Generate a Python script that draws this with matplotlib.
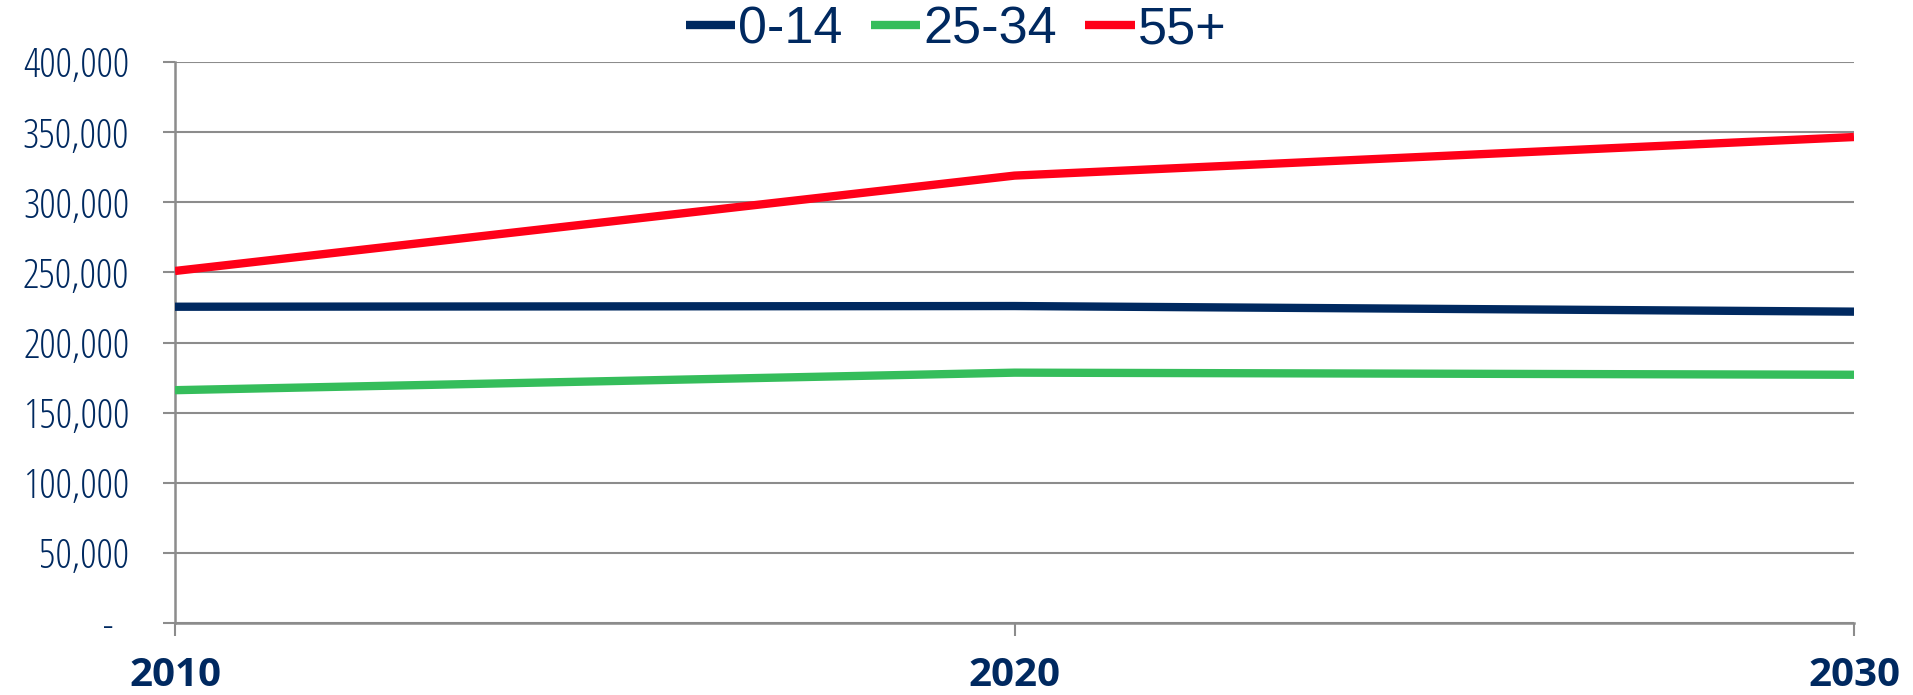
import matplotlib.pyplot as plt
from matplotlib.ticker import FixedLocator

years = [2010, 2020, 2030]
age_groups = ["0-14", "25-34", "55+"]
pop_0_14 = [225500, 226000, 222000]
pop_25_34 = [166000, 178500, 177000]
pop_55_plus = [251000, 319000, 346500]
y_ticks = [0, 50000, 100000, 150000, 200000, 250000, 300000, 350000, 400000]
y_tick_labels = ["-  ", "50,000", "100,000", "150,000", "200,000",
                 "250,000", "300,000", "350,000", "400,000"]

navy = "#002960"
colors = [navy, "#35BD5B", "#FF0018"]
grid_grey = "#8C8C8C"
narrow = ["Open Sans", "DejaVu Sans"]

fig = plt.figure(figsize=(19.13, 6.95), dpi=100)
ax = fig.add_axes([175 / 1913, 72 / 695, (1854 - 175) / 1913, (623 - 62) / 695])

for vals, name, c in zip([pop_0_14, pop_25_34, pop_55_plus], age_groups, colors):
    ax.plot(years, vals, color=c, lw=6.0, label=name, solid_capstyle="butt", zorder=3)

ax.set_xlim(2010, 2030)
ax.set_ylim(0, 400000)
ax.yaxis.set_major_locator(FixedLocator(y_ticks))
ax.set_yticklabels(y_tick_labels, family=narrow, stretch="condensed",
                   fontsize=29.5, color=navy)
ax.set_xticks(years)
ax.set_xticklabels([str(y) for y in years], family=narrow, stretch="condensed",
                   fontsize=29, fontweight="bold", color=navy)

ax.grid(axis="y", color=grid_grey, lw=1.5, zorder=1)
for s in ["top", "right"]:
    ax.spines[s].set_visible(False)
for s in ["left", "bottom"]:
    ax.spines[s].set_color(grid_grey)
    ax.spines[s].set_linewidth(1.8)
ax.tick_params(axis="y", length=9, width=1.5, color=grid_grey, pad=24)
ax.tick_params(axis="x", length=9, width=1.5, color=grid_grey, pad=15)

fig.legend(loc="upper center", bbox_to_anchor=(956 / 1913, 1.06), ncol=3,
           frameon=False, handlelength=0.95, handletextpad=0.05,
           columnspacing=0.55,
           prop={"family": ["Liberation Sans", "DejaVu Sans"], "size": 37.5},
           labelcolor=navy)

fig.savefig("out.png", dpi=100)
